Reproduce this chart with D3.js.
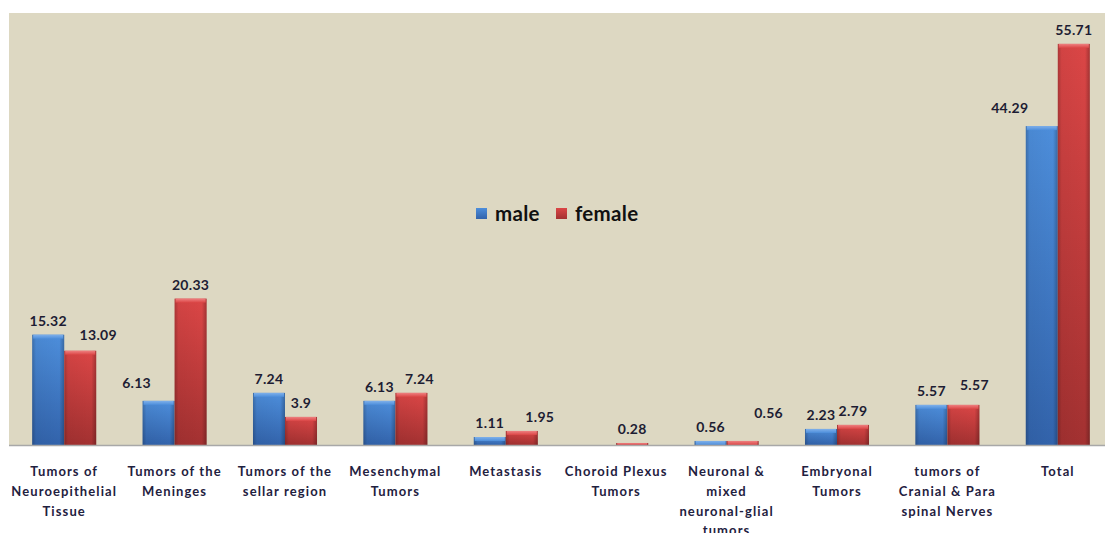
<!DOCTYPE html>
<html>
<head>
<meta charset="utf-8">
<script src="https://cdn.jsdelivr.net/npm/d3@7"></script>
<style>
  body { margin: 0; background: #ffffff; }
  svg text { font-family: Lato, "Open Sans", sans-serif; }
</style>
</head>
<body>
<svg id="chart" width="1105" height="533"></svg>
<script>
// Tumour groups (line breaks as set under the axis)
const categories = [
  "Tumors of\nNeuroepithelial\nTissue",
  "Tumors of the\nMeninges",
  "Tumors of the\nsellar region",
  "Mesenchymal\nTumors",
  "Metastasis",
  "Choroid Plexus\nTumors",
  "Neuronal &\nmixed\nneuronal-glial\ntumors",
  "Embryonal\nTumors",
  "tumors of\nCranial & Para\nspinal Nerves",
  "Total"
];
const seriesNames = ["male", "female"];
const maleValues   = [15.32, 6.13, 7.24, 6.13, 1.11, null, 0.56, 2.23, 5.57, 44.29];
const femaleValues = [13.09, 20.33, 3.9, 7.24, 1.95, 0.28, 0.56, 2.79, 5.57, 55.71];

// Small nudges [dx, dy] for value labels that sit off-centre
const maleLabelNudge   = [[0,0],[-22,-4],[0,0],[0,0],[0,0],[0,0],[0,0],[0,0],[0,0],[-32,-4]];
const femaleLabelNudge = [[18,-2],[0,0],[0,0],[8,0],[18,0],[0,0],[26,-14],[0,0],[11,-6],[0,0]];

const W = 1105, H = 533;
const plot = { left: 9, top: 13, right: 1113, bottom: 445 };

const svg = d3.select("#chart");
const defs = svg.append("defs");

const palette = {
  male:   { top: "#4d8edb", bottom: "#3263ab", cap: "#7fb0ea" },
  female: { top: "#db4646", bottom: "#a33131", cap: "#ee8080" }
};

seriesNames.forEach(s => {
  const g = defs.append("linearGradient").attr("id", "grad-" + s)
    .attr("x1", 0).attr("y1", 0).attr("x2", 0).attr("y2", 1);
  g.append("stop").attr("offset", "0%").attr("stop-color", palette[s].top);
  g.append("stop").attr("offset", "100%").attr("stop-color", palette[s].bottom);
  const c = defs.append("linearGradient").attr("id", "cap-" + s)
    .attr("x1", 0).attr("y1", 0).attr("x2", 0).attr("y2", 1);
  c.append("stop").attr("offset", "0%").attr("stop-color", palette[s].cap);
  c.append("stop").attr("offset", "100%").attr("stop-color", palette[s].top);
});
// side shading to give the columns a rounded look
const side = defs.append("linearGradient").attr("id", "side-shade")
  .attr("x1", 0).attr("y1", 0).attr("x2", 1).attr("y2", 0);
side.append("stop").attr("offset", "0%").attr("stop-color", "#000").attr("stop-opacity", 0.22);
side.append("stop").attr("offset", "12%").attr("stop-color", "#000").attr("stop-opacity", 0.04);
side.append("stop").attr("offset", "85%").attr("stop-color", "#000").attr("stop-opacity", 0.0);
side.append("stop").attr("offset", "100%").attr("stop-color", "#000").attr("stop-opacity", 0.25);

// plot background
svg.append("rect")
  .attr("x", plot.left).attr("y", plot.top)
  .attr("width", W - plot.left).attr("height", plot.bottom - plot.top)
  .attr("fill", "#ddd8c2");

const x = d3.scaleBand()
  .domain(d3.range(categories.length))
  .range([plot.left, plot.right])
  .paddingInner(0.42)
  .paddingOuter(0.21);
const xs = d3.scaleBand().domain(seriesNames).range([0, x.bandwidth()]);
const y = d3.scaleLinear().domain([0, 60]).range([plot.bottom, plot.top]);

const rows = [];
categories.forEach((c, i) => {
  rows.push({ i, s: "male", v: maleValues[i], nudge: maleLabelNudge[i] });
  rows.push({ i, s: "female", v: femaleValues[i], nudge: femaleLabelNudge[i] });
});
const present = rows.filter(d => d.v != null);

const bars = svg.append("g").selectAll("g").data(present).join("g")
  .attr("transform", d => `translate(${x(d.i) + xs(d.s)},0)`);

bars.append("rect")
  .attr("x", 0).attr("y", d => y(d.v))
  .attr("width", xs.bandwidth()).attr("height", d => y(0) - y(d.v))
  .attr("fill", d => `url(#grad-${d.s})`);
bars.append("rect")
  .attr("x", 0).attr("y", d => y(d.v))
  .attr("width", xs.bandwidth()).attr("height", d => y(0) - y(d.v))
  .attr("fill", "url(#side-shade)");
bars.append("rect")
  .attr("x", 1).attr("y", d => y(d.v))
  .attr("width", xs.bandwidth() - 2)
  .attr("height", d => Math.min(4, y(0) - y(d.v)))
  .attr("fill", d => `url(#cap-${d.s})`);

// baseline
svg.append("line")
  .attr("x1", plot.left).attr("x2", W)
  .attr("y1", plot.bottom + 0.5).attr("y2", plot.bottom + 0.5)
  .attr("stroke", "#a8a8a8").attr("stroke-width", 1.5);

// value labels
svg.append("g").selectAll("text").data(present).join("text")
  .attr("x", d => x(d.i) + xs(d.s) + xs.bandwidth() / 2 + d.nudge[0])
  .attr("y", d => y(d.v) - 9 + d.nudge[1])
  .attr("text-anchor", "middle")
  .attr("font-size", 14).attr("font-weight", 700)
  .attr("letter-spacing", 0.3)
  .attr("fill", "#1d1d33")
  .text(d => d.v);

// category labels
const catG = svg.append("g").selectAll("text").data(categories).join("text")
  .attr("x", (d, i) => x(i) + x.bandwidth() / 2)
  .attr("y", 476)
  .attr("text-anchor", "middle")
  .attr("font-size", 13).attr("font-weight", 700)
  .attr("letter-spacing", 1.1)
  .attr("fill", "#1f2140");
catG.selectAll("tspan").data(d => d.split("\n")).join("tspan")
  .attr("x", function () { return d3.select(this.parentNode).attr("x"); })
  .attr("dy", (d, j) => j === 0 ? 0 : 19.8)
  .text(d => d);

// legend
const legend = svg.append("g").attr("transform", "translate(476,214)");
const legendX = [0, 80];
seriesNames.forEach((s, k) => {
  const g = legend.append("g").attr("transform", `translate(${legendX[k]},0)`);
  g.append("rect").attr("x", 0).attr("y", -6).attr("width", 11).attr("height", 11)
    .attr("fill", `url(#grad-${s})`);
  g.append("text").attr("x", 19).attr("y", 7)
    .attr("font-size", 20.5).attr("font-weight", 700).attr("fill", "#111")
    .attr("letter-spacing", 0.3)
    .text(s);
});
</script>
</body>
</html>
